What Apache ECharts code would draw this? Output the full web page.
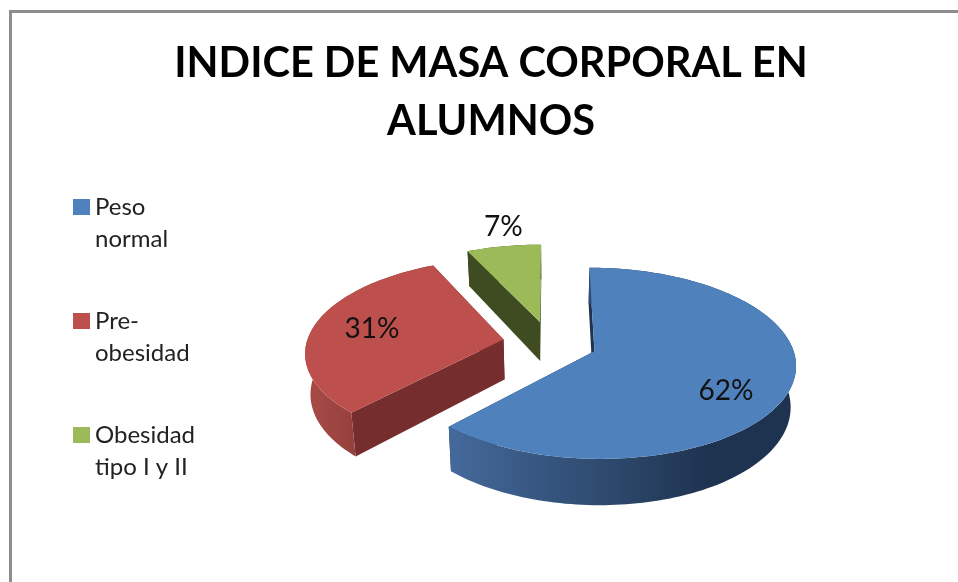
<!DOCTYPE html>
<html><head><meta charset="utf-8">
<style>html,body{margin:0;padding:0;background:#fff}#c{width:958px;height:582px}</style>
<script src="https://cdn.jsdelivr.net/npm/echarts@6/dist/echarts.min.js"></script>
</head><body><div id="c"></div>
<script>
const titleText = 'INDICE DE MASA CORPORAL EN\nALUMNOS';
const categories = ['Peso\nnormal', 'Pre-\nobesidad', 'Obesidad\ntipo I y II'];
const percents = [62, 31, 7];

const topColors = ['#4f81bd', '#bd4f4c', '#9bbb59'];
const cutColors = ['#1f3350', '#752e2d', '#3f4b20'];
const wallStops = [
  [[0, '#44699b'], [0.45, '#2e4a6e'], [0.75, '#1e3350'], [1, '#1e3350']],
  [[0, '#a94b47'], [0.4, '#94403c'], [1, '#752e2d']],
  [[0, '#3f4b20'], [1, '#3f4b20']]
];
const labelRadius = [0.7, 0.66, 1.2];
const labelNudge = [[-4, 15], [-6, -1], [6, -6]];

// projection of the tilted pie
const CX = 550, CY = 343, R = 197, H = 92, K = 0.125, D = 40, EXPLODE = 0.24, SHRINK = 0.022;
const total = percents.reduce((a, b) => a + b, 0);

function project(u, v, z) {
  const s = 1 / (1 - K * v);
  return [CX + R * u * s * (1 - SHRINK * z), CY + H * v * s + D * s * z];
}

function renderSlice(idx) {
  return function (params, api) {
    const val = api.value(0);
    let before = 0;
    for (let i = 0; i < idx; i++) before += percents[i];
    const a0 = before / total * Math.PI * 2;
    const a1 = a0 + val / total * Math.PI * 2;
    const mid = (a0 + a1) / 2;
    const ox = Math.sin(mid) * EXPLODE, oy = -Math.cos(mid) * EXPLODE;
    const steps = Math.max(8, Math.round((a1 - a0) * 40));
    const arcTop = [], arcBot = [];
    for (let i = 0; i <= steps; i++) {
      const a = a0 + (a1 - a0) * i / steps;
      const u = ox + Math.sin(a), v = oy - Math.cos(a);
      arcTop.push(project(u, v, 0));
      arcBot.push(project(u, v, 1));
    }
    const apexT = project(ox, oy, 0), apexB = project(ox, oy, 1);
    const children = [];
    children.push({ type: 'polygon', shape: { points: [apexT, arcTop[0], arcBot[0], apexB] },
      style: { fill: cutColors[idx] } });
    children.push({ type: 'polygon', shape: { points: [apexT, arcTop[steps], arcBot[steps], apexB] },
      style: { fill: cutColors[idx] } });
    children.push({ type: 'polygon', shape: { points: arcTop.concat(arcBot.slice().reverse()) },
      style: { fill: new echarts.graphic.LinearGradient(0, 0, 1, 0,
        wallStops[idx].map(s => ({ offset: s[0], color: s[1] }))) } });
    children.push({ type: 'polygon', shape: { points: [apexT].concat(arcTop) },
      style: { fill: topColors[idx] } });
    const lp = project(ox + Math.sin(mid) * labelRadius[idx], oy - Math.cos(mid) * labelRadius[idx], 0);
    children.push({ type: 'text', z2: 10, style: { text: val + '%', x: lp[0] + labelNudge[idx][0], y: lp[1] + labelNudge[idx][1],
      align: 'center', verticalAlign: 'middle', fill: '#111',
      font: '28px Lato' } });
    return { type: 'group', children };
  };
}

const chart = echarts.init(document.getElementById('c'), null, { renderer: 'canvas' });
chart.setOption({
  animation: false,
  backgroundColor: '#ffffff',
  title: { text: titleText, left: 486, top: 30, textAlign: 'center',
    textStyle: { fontFamily: 'Lato', fontWeight: 'bold', fontSize: 41.5, lineHeight: 58, color: '#000' } },
  legend: { orient: 'vertical', left: 73, top: 159, padding: 0, itemWidth: 17, itemHeight: 16, itemGap: 18,
    icon: 'rect', selectedMode: false, data: categories,
    formatter: name => '\n' + name,
    textStyle: { fontFamily: 'Lato', fontSize: 24, lineHeight: 32, color: '#222' } },
  graphic: [{ type: 'polyline', silent: true,
    shape: { points: [[10.5, 582], [10.5, 11.5], [958, 11.5]] },
    style: { stroke: '#8e8e8e', lineWidth: 3, fill: null } }],
  series: categories.map((name, i) => ({
    type: 'custom', name, coordinateSystem: 'none',
    itemStyle: { color: topColors[i] },
    data: [[percents[i]]],
    renderItem: renderSlice(i)
  }))
});
</script></body></html>
